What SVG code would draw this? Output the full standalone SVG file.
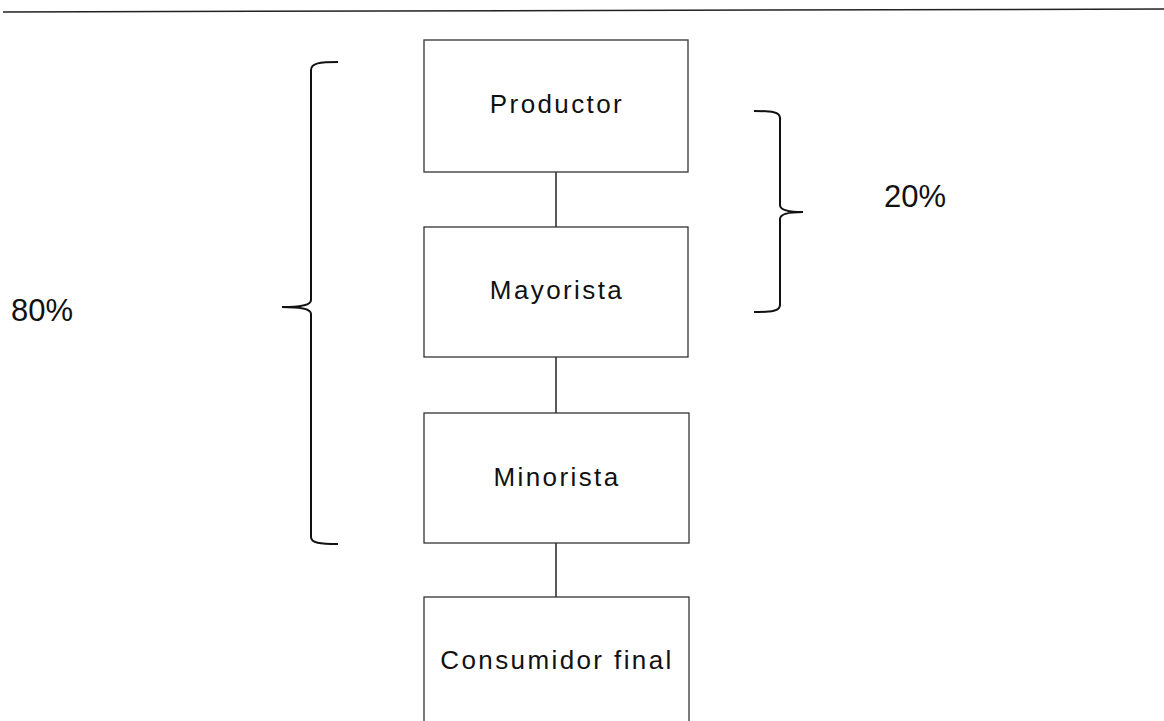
<svg xmlns="http://www.w3.org/2000/svg" width="1164" height="721" viewBox="0 0 1164 721">
<style>
.box{fill:#fff;stroke:#333;stroke-width:1.3}
.lbl{font-family:"Liberation Sans",Arial,sans-serif;font-size:26px;letter-spacing:2.4px;fill:#111;text-anchor:middle}
.pct{font-family:"Liberation Sans",Arial,sans-serif;font-size:31px;fill:#111}
.ln{stroke:#222;stroke-width:1.5;fill:none}
.br{stroke:#111;stroke-width:2;fill:none}
</style>
<rect width="1164" height="721" fill="#fff"/>
<line class="ln" x1="3" y1="12" x2="1164" y2="9"/>
<g id="connectors">
<line class="ln" x1="556" y1="172" x2="556" y2="227"/>
<line class="ln" x1="556" y1="357" x2="556" y2="413"/>
<line class="ln" x1="556" y1="543" x2="556" y2="597"/>
</g>
<g id="productor"><rect class="box" x="424" y="40" width="264" height="132"/><text class="lbl" x="557" y="113">Productor</text></g>
<g id="mayorista"><rect class="box" x="424" y="227" width="264" height="130"/><text class="lbl" x="557" y="299">Mayorista</text></g>
<g id="minorista"><rect class="box" x="424" y="413" width="265" height="130"/><text class="lbl" x="557" y="486">Minorista</text></g>
<g id="consumidor"><rect class="box" x="424" y="597" width="265" height="130"/><text class="lbl" x="557" y="669">Consumidor final</text></g>
<g id="brace80">
<path class="br" d="M338,62 C320,62 311,63 311,70 L311,300 C311,305 302,307 282,307 C302,307 311,309 311,314 L311,537 C311,543 320,544 338,544"/>
<text class="pct" x="11" y="321">80%</text>
</g>
<g id="brace20">
<path class="br" d="M754,111 C772,111 780,112 780,118 L780,205 C780,210 788,212 803,212 C788,212 780,214 780,219 L780,305 C780,311 772,312 754,312"/>
<text class="pct" x="884" y="207">20%</text>
</g>
</svg>
